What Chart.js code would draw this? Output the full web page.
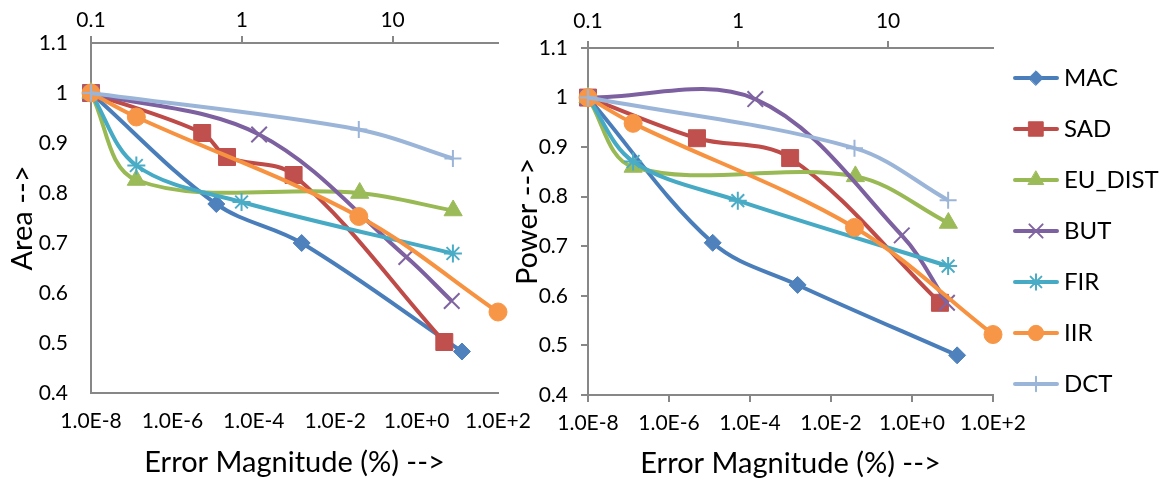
<!DOCTYPE html>
<html>
<head>
<meta charset="utf-8">
<script src="https://cdn.jsdelivr.net/npm/chart.js@4.4.0/dist/chart.umd.min.js"></script>
<style>
  body { margin: 0; background: #fff; }
  #wrap { position: relative; width: 1164px; height: 483px; overflow: hidden; }
  .box { position: absolute; top: 0; height: 483px; }
  #areaBox { left: 0; width: 540px; }
  #powerBox { left: 500px; width: 664px; }
</style>
</head>
<body>
<div id="wrap">
  <div class="box" id="areaBox"><canvas id="areaChart"></canvas></div>
  <div class="box" id="powerBox"><canvas id="powerChart"></canvas></div>
</div>
<script>
const seriesNames = ["MAC", "SAD", "EU_DIST", "BUT", "FIR", "IIR", "DCT"];

// error magnitude (%) of each design point
const macErr = [1e-8, 1.2e-5, 1.5e-3, 13];
const sadAreaErr = [1e-8, 5.4e-6, 2.2e-5, 9.5e-4, 4.8];
const sadPowerErr = [1e-8, 4.9e-6, 9.8e-4, 4.9];
const euErr = [1e-8, 1.3e-7, 0.04, 7.9];
const butErr = [1e-8, 1.35e-4, 0.56, 7.3];
const firErr = [1e-8, 1.3e-7, 5.0e-5, 7.8];
const iirErr = [1e-8, 1.3e-7, 0.038, 100];
const dctErr = [1e-8, 0.038, 7.8];

// normalised area
const macArea = [1, 0.778, 0.70, 0.483];
const sadArea = [1, 0.92, 0.872, 0.836, 0.502];
const euArea = [1, 0.826, 0.80, 0.765];
const butArea = [1, 0.917, 0.672, 0.584];
const firArea = [1, 0.855, 0.782, 0.679];
const iirArea = [1, 0.952, 0.753, 0.562];
const dctArea = [1, 0.927, 0.869];

// normalised power
const macPower = [1, 0.707, 0.622, 0.48];
const sadPower = [1, 0.918, 0.878, 0.586];
const euPower = [1, 0.86, 0.841, 0.747];
const butPower = [1, 0.997, 0.722, 0.586];
const firPower = [1, 0.871, 0.792, 0.66];
const iirPower = [1, 0.948, 0.738, 0.522];
const dctPower = [1, 0.898, 0.793];

const errTicks = [1e-8, 1e-6, 1e-4, 1e-2, 1, 100];
const topTicks = [0.1, 1, 10];

const styles = [
  { line: "#4A7EBB", fill: "#4F81BD", shape: "rectRot", r: 8.5, bw: 1 },
  { line: "#BE4B48", fill: "#C0504D", shape: "rect", r: 12, bw: 1 },
  { line: "#98B954", fill: "#9BBB59", shape: "triangle", r: 10.5, bw: 1 },
  { line: "#7D60A0", fill: "#8064A2", shape: "crossRot", r: 11, bw: 2 },
  { line: "#46AAC5", fill: "#4BACC6", shape: "star", r: 9, bw: 2 },
  { line: "#F69240", fill: "#F79646", shape: "circle", r: 9, bw: 1 },
  { line: "#9BB5D9", fill: "#9BB5D9", shape: "cross", r: 8.5, bw: 2 },
];

Chart.defaults.font.family = "Lato, 'Open Sans', sans-serif";
Chart.defaults.color = "#000";

// little line + marker swatches for the legend
const legendIcons = styles.map(s => {
  const c = document.createElement("canvas");
  c.width = 46;
  c.height = 26;
  const g = c.getContext("2d");
  g.strokeStyle = s.line;
  g.lineWidth = 4;
  g.lineCap = "round";
  g.beginPath();
  g.moveTo(2, 13);
  g.lineTo(44, 13);
  g.stroke();
  g.fillStyle = s.fill;
  g.strokeStyle = s.fill;
  g.lineWidth = s.bw;
  Chart.helpers.drawPoint(g, { pointStyle: s.shape, radius: s.r * 0.85, rotation: 0, borderWidth: s.bw }, 23, 13);
  return c;
});

function fmtExp(v) {
  const e = Math.round(Math.log10(v));
  return "1.0E" + (e >= 0 ? "+" : "") + e;
}

function buildSets(errs, vals) {
  return seriesNames.map((name, i) => {
    const s = styles[i];
    return {
      label: name,
      data: errs[i].map((e, k) => ({ x: e, y: vals[i][k] })),
      borderColor: s.line,
      backgroundColor: s.fill,
      borderWidth: 4,
      pointStyle: s.shape,
      pointRadius: s.r,
      pointBorderWidth: s.bw,
      pointBackgroundColor: s.fill,
      pointBorderColor: s.fill,
      tension: 0.35,
      clip: false,
      order: seriesNames.length - i,
    };
  });
}

function axes(o) {
  const axisLine = { display: true, color: "#878787", width: 2 };
  return {
    x: {
      type: "logarithmic", position: "bottom", min: 1e-8, max: 100,
      afterBuildTicks: ax => { ax.ticks = errTicks.map(v => ({ value: v })); },
      afterFit: ax => { ax.height = o.bottomH; },
      ticks: { callback: v => fmtExp(v), font: { size: 21 }, padding: 9, maxRotation: 0, autoSkip: false },
      grid: { drawOnChartArea: false, tickLength: 7, lineWidth: 2, tickColor: o.bottomTickColor },
      border: axisLine,
      title: { display: true, text: "Error Magnitude (%) -->", font: { size: 29 }, padding: { top: 0, bottom: o.xTitlePad } },
    },
    x2: {
      type: "logarithmic", position: "top", min: 0.1, max: 50,
      afterBuildTicks: ax => { ax.ticks = topTicks.map(v => ({ value: v })); },
      afterFit: ax => { ax.height = o.topH; },
      ticks: { callback: v => String(v), font: { size: 21 }, padding: o.topTickPad, maxRotation: 0, autoSkip: false },
      grid: { drawOnChartArea: false, tickLength: 7, lineWidth: 2, tickColor: "#878787" },
      border: axisLine,
    },
    y: {
      min: 0.4, max: 1.1,
      afterFit: ax => { ax.width = o.yW; },
      ticks: { stepSize: 0.1, callback: v => String(Math.round(v * 10) / 10), font: { size: 21 }, padding: o.yTickPad },
      grid: { drawOnChartArea: false, tickLength: 7, lineWidth: 2, tickColor: o.yTickColor },
      border: axisLine,
      title: { display: true, text: o.yTitle, font: { size: 29 }, padding: { top: o.yTitlePad, bottom: 0 } },
    },
  };
}

new Chart(document.getElementById("areaChart"), {
  type: "line",
  data: {
    datasets: buildSets(
      [macErr, sadAreaErr, euErr, butErr, firErr, iirErr, dctErr],
      [macArea, sadArea, euArea, butArea, firArea, iirArea, dctArea]
    ),
  },
  options: {
    responsive: true,
    maintainAspectRatio: false,
    animation: false,
    events: [],
    layout: { padding: { right: 42 } },
    scales: axes({
      yW: 91, yTitle: "Area -->", yTitlePad: 5, yTickPad: 16, yTickColor: "rgba(0,0,0,0)",
      bottomH: 90, bottomTickColor: "rgba(0,0,0,0)", xTitlePad: 3,
      topH: 43, topTickPad: 3,
    }),
    plugins: { legend: { display: false }, tooltip: { enabled: false } },
  },
});

new Chart(document.getElementById("powerChart"), {
  type: "line",
  data: {
    datasets: buildSets(
      [macErr, sadPowerErr, euErr, butErr, firErr, iirErr, dctErr],
      [macPower, sadPower, euPower, butPower, firPower, iirPower, dctPower]
    ),
  },
  options: {
    responsive: true,
    maintainAspectRatio: false,
    animation: false,
    events: [],
    scales: axes({
      yW: 88, yTitle: "Power -->", yTitlePad: 10, yTickPad: 13, yTickColor: "#878787",
      bottomH: 88, bottomTickColor: "#878787", xTitlePad: 2,
      topH: 48, topTickPad: 7,
    }),
    plugins: {
      tooltip: { enabled: false },
      legend: {
        display: true,
        position: "right",
        align: "start",
        maxWidth: 171,
        title: { display: true, text: "", font: { size: 10 }, padding: { top: 14, bottom: 13 } },
        labels: {
          usePointStyle: true,
          pointStyleWidth: 32,
          padding: 27,
          font: { size: 24 },
          generateLabels: chart => Chart.defaults.plugins.legend.labels.generateLabels(chart)
            .map(item => ({ ...item, pointStyle: legendIcons[item.datasetIndex] })),
          sort: (a, b) => a.datasetIndex - b.datasetIndex,
        },
      },
    },
  },
});
</script>
</body>
</html>
